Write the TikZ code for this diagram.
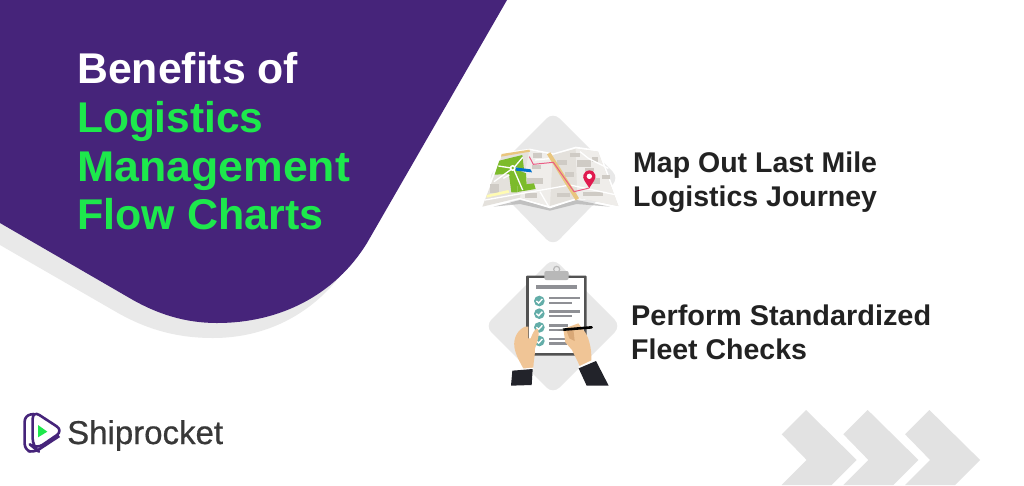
\documentclass[tikz,border=0pt]{standalone}
\usepackage{fontspec}
\setmainfont{Liberation Sans}
\newfontfamily\logofont[FakeBold=0.6]{Liberation Sans}
\definecolor{purp}{HTML}{46247A}
\definecolor{grn}{HTML}{1DE84C}
\definecolor{shadowgray}{HTML}{E9E9E9}
\definecolor{dia}{HTML}{E8E8E8}
\definecolor{ink}{HTML}{222222}
\definecolor{chev}{HTML}{E2E2E2}
\definecolor{skin}{HTML}{F0C596}
\definecolor{skindark}{HTML}{D9A877}
\definecolor{tealc}{HTML}{63ADA8}
\definecolor{suit}{HTML}{22232A}
\definecolor{parkgreen}{HTML}{7CBB2B}
\definecolor{mapbase}{HTML}{E4E1DC}
\definecolor{maplight}{HTML}{EFEDEA}
\definecolor{mapblock}{HTML}{CFCBC5}
\definecolor{mapyellow}{HTML}{E9C67E}
\definecolor{mappink}{HTML}{EA5C84}
\definecolor{pincolor}{HTML}{E01A4F}
\definecolor{barg}{HTML}{8F9095}
\tikzset{
  title/.style={anchor=base west,inner sep=0pt,font=\fontsize{43}{43}\selectfont\bfseries,text=white},
  gtitle/.style={title,text=grn},
  sub/.style={anchor=base west,inner sep=0pt,font=\fontsize{28.5}{28.5}\selectfont\bfseries,text=ink},
  road/.style={white,line width=1.3pt},
}
\begin{document}
\begin{tikzpicture}[x=1pt,y=-1pt]
\useasboundingbox (0,0) rectangle (1024,485);
\fill[white] (0,0) rectangle (1024,485);
% shadow
\fill[shadowgray] (0,220) -- (0,245) -- (118,313) .. controls (150,331) and (180,338) .. (213,338)
  .. controls (265,338) and (310,315) .. (340,276) -- (300,250) -- cycle;
% purple blob
\fill[purp] (0,0) -- (507,0) -- (367,243) .. controls (335,295) and (280,323) .. (217,323)
  .. controls (185,323) and (158,314) .. (133,300) -- (0,223) -- cycle;
% title
\node[title] (t1) at (77,83) {\scalebox{0.995}[1]{Benefits of}};
\node[gtitle] (t2) at (77,132) {\scalebox{0.987}[1]{Logistics}};
\node[gtitle] (t3) at (77,181) {\scalebox{1.038}[1]{Management}};
\node[gtitle] (t4) at (77,229) {\scalebox{1.0}[1]{Flow Charts}};
% diamonds
\fill[dia,rounded corners=9pt] (553,112) -- (619,178) -- (553,246) -- (487,178) -- cycle;
\fill[dia,rounded corners=9pt] (553,258) -- (621,326) -- (553,394) -- (485,326) -- cycle;
% map
\begin{scope}[shift={(470,110)},scale=1/3]
\fill[black!35,opacity=.6] (70,290) -- (150,270) -- (240,292) -- (320,270) -- (420,290) -- (320,282) -- (240,302) -- (150,282) -- cycle;
\fill[white] (30,295) -- (92,128) -- (180,116) -- (250,130) -- (317,110) -- (388,120) -- (453,295) -- (385,272) -- (322,268) -- (240,295) -- (150,268) -- cycle;
\fill[mapbase] (37,290) -- (97,133) -- (178,121) -- (248,135) -- (317,116) -- (384,125) -- (445,288) -- (322,263) -- (240,288) -- (150,263) -- cycle;
\fill[maplight] (178,121) -- (248,135) -- (240,288) -- (150,263) -- cycle;
\fill[maplight] (317,116) -- (384,125) -- (445,288) -- (322,263) -- cycle;
% blocks
\foreach \a/\b/\c/\d in {188/130/215/145,185/165/212/178,165/250/200/263,262/150/290/165,285/185/312/200,322/150/362/170,365/140/385/155,340/245/398/258,395/195/420/207,172/205/220/222,300/128/330/140,60/222/88/250,350/205/390/222,262/250/300/262,345/175/372/182}{
  \fill[mapblock] (\a,\b) rectangle (\c,\d);}
% park
\fill[parkgreen] (88,152) -- (157,135) -- (162,178) -- (132,170) -- (118,192) -- (74,194) -- cycle;
\fill[parkgreen] (116,186) -- (135,176) -- (168,190) -- (170,224) -- (142,228) -- (142,247) -- (124,247) -- cycle;
\fill[parkgreen] (142,226) -- (192,220) -- (197,237) -- (142,246) -- cycle;
\fill[blue!45!cyan!80!black] (135,172) -- (182,178) -- (186,187) -- (138,182) -- cycle;
\fill[yellow!30!white] (50,255) -- (115,240) -- (118,248) -- (50,263) -- cycle;
\fill[mapyellow] (95,132) -- (178,119) -- (180,125) -- (93,140) -- cycle;
\draw[road] (45,270) -- (300,225) -- (440,255);
\draw[road] (85,168) -- (130,175) -- (158,240);
\draw[road] (130,175) -- (158,142);
\draw[road] (128,175) -- (72,215);
\draw[road] (100,205) -- (118,195);
\draw[road] (210,245) -- (235,288);
\draw[road] (330,125) -- (355,145) -- (415,175);
\draw[road] (195,150) -- (248,145);
\fill[white] (128,174) circle (9);
\fill[parkgreen] (128,174) circle (4);
\draw[mapyellow,line width=4pt] (236,130) -- (322,268);
\draw[mappink,line width=1pt] (178,140) -- (190,163) -- (250,157) -- (312,245) -- (358,234);
\fill[pincolor] (358,234) .. controls (345,215) and (337,205) .. (340,195) .. controls (345,176) and (372,176) .. (376,195) .. controls (379,205) and (370,215) .. (358,234) -- cycle;
\fill[white] (358,199) circle (8);
\end{scope}
% clipboard
\begin{scope}[shift={(480,255)},scale=1/3]
\fill[black!68,rounded corners=1pt] (138,62) rectangle (320,302);
\fill[white] (146,70) rectangle (312,294);
\draw[black!28,line width=1.2pt] (230,43) circle (9);
\fill[black!28,rounded corners=2pt] (193,48) rectangle (266,75);
\fill[barg] (167,90) rectangle (292,103);
\foreach \y in {138,176,217,258}{
  \fill[tealc] (178,\y) circle (16);
  \draw[white,line width=1.4pt] (169,\y) -- (176,\y+6) -- (187,\y-6);
}
\foreach \y/\w in {126/300,166/300,208/265,248/265}{
  \fill[barg] (206,\y) rectangle (\w,\y+7);
}
\foreach \y/\w in {140/277,180/277,222/250,262/262}{
  \fill[barg] (206,\y) rectangle (\w,\y+7);
}
% left hand
\fill[skin] (135,215) .. controls (112,225) and (100,250) .. (103,275) .. controls (106,300) and (122,325) .. (132,344) -- (160,338) .. controls (160,320) and (166,300) .. (165,280) .. controls (172,262) and (180,235) .. (174,222) .. controls (165,218) and (158,235) .. (152,250) -- (145,250) -- (145,215) -- cycle;
% right hand
\fill[skin] (250,222) -- (295,205) -- (310,225) .. controls (325,240) and (336,280) .. (334,318) -- (300,334) -- (276,285) -- (256,262) -- cycle;
\fill[skindark] (260,228) -- (280,222) -- (284,258) -- (268,250) -- cycle;
% pen
\draw[black,line width=2.6pt,line cap=round] (250,224) -- (335,217);
\fill[black!50] (232,226) -- (250,221) -- (250,228) -- cycle;
% cuffs
\fill[white] (100,343) -- (160,338) -- (160,344) -- (100,349) -- cycle;
\fill[suit] (97,347) -- (158,342) -- (155,390) -- (93,392) -- cycle;
\fill[white] (295,335) -- (335,316) -- (338,322) -- (298,341) -- cycle;
\fill[suit] (296,340) -- (348,318) -- (386,392) -- (320,392) -- cycle;
\end{scope}
% right text
\node[sub] (m1) at (633,172) {Map Out Last Mile};
\node[sub] (m2) at (633,206) {Logistics Journey};
\node[sub] (p1) at (631,325) {\scalebox{1.013}[1]{Perform Standardized}};
\node[sub] (p2) at (631,359) {Fleet Checks};
% logo
\begin{scope}[shift={(10,400)},scale=1/3]
\draw[purp,line width=2.6pt,rounded corners=6pt,line join=round] (72,42) -- (44,46) -- (44,150) -- (72,158) -- (148,108);
\draw[purp,line width=2.6pt,rounded corners=8pt,line join=round] (68,32) -- (160,92) -- (78,148) -- (68,140) -- cycle;
\fill[grn] (84,75) -- (112,95) -- (84,112) -- cycle;
\end{scope}
\node[anchor=base west,inner sep=0pt,text=black!78,font=\logofont\fontsize{33}{33}\selectfont] (logo) at (67,444) {Shiprocket};
% chevrons
\foreach \dx in {0,61.7,123.4}{
  \fill[chev] (770+36+\dx,410) -- (770+86.7+\dx,460) -- (770+61.7+\dx,485) -- (770+11.7+\dx,485) -- (770+36.7+\dx,460) -- (770+11.7+\dx,434.3) -- cycle;
}
\end{tikzpicture}
\end{document}
